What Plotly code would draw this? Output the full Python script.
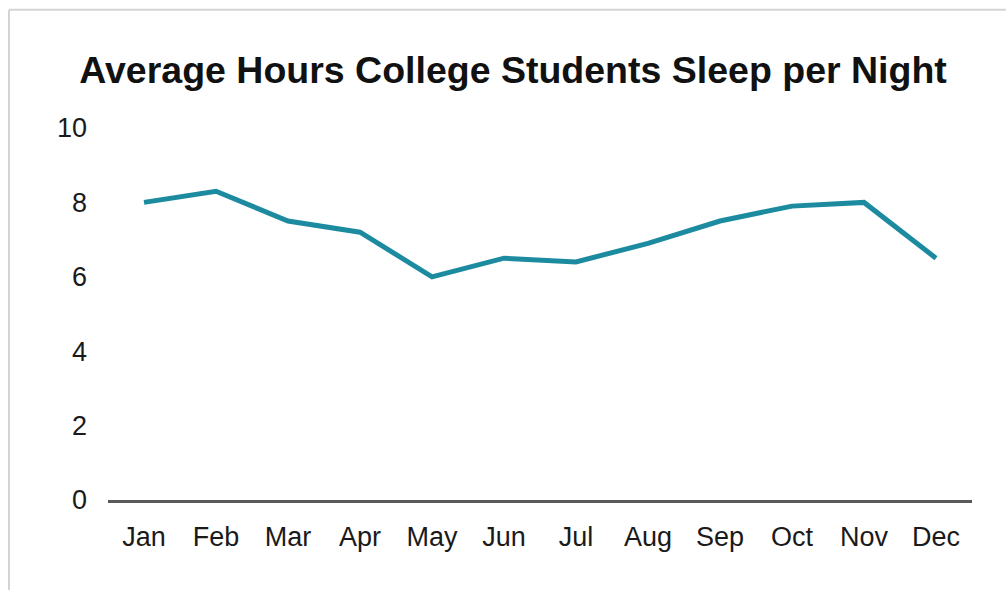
import plotly.graph_objects as go

months = ["Jan", "Feb", "Mar", "Apr", "May", "Jun",
          "Jul", "Aug", "Sep", "Oct", "Nov", "Dec"]
hours = [8.0, 8.3, 7.5, 7.2, 6.0, 6.5, 6.4, 6.9, 7.5, 7.9, 8.0, 6.5]
y_ticks = [0, 2, 4, 6, 8, 10]

FONT = "Liberation Sans, Arial, sans-serif"

fig = go.Figure(
    go.Scatter(
        x=months,
        y=hours,
        mode="lines",
        line=dict(color="#1c8ba0", width=5),
        hoverinfo="x+y",
    )
)

fig.update_layout(
    width=1006,
    height=590,
    margin=dict(l=108, r=34, t=128, b=90),
    paper_bgcolor="white",
    plot_bgcolor="white",
    showlegend=False,
    title=dict(
        text="<b>Average Hours College Students Sleep per Night</b>",
        x=0.51,
        xanchor="center",
        y=0.882,
        yanchor="middle",
        font=dict(family=FONT, size=37.5, color="#111111"),
    ),
    font=dict(family=FONT, size=27, color="#1a1a1a"),
    shapes=[
        # outer frame (top and left edges visible)
        dict(type="line", xref="paper", yref="paper",
             x0=-0.1146, x1=1.2, y0=1.318, y1=1.318,
             line=dict(color="#d4d4d4", width=2)),
        dict(type="line", xref="paper", yref="paper",
             x0=-0.1146, x1=-0.1146, y0=-0.5, y1=1.318,
             line=dict(color="#d4d4d4", width=2)),
    ],
)

fig.update_xaxes(
    type="category",
    range=[-0.5, 11.5],
    showgrid=False,
    showline=True,
    linecolor="#595959",
    linewidth=3,
    ticks="",
    ticklabelstandoff=11,
    tickfont=dict(family=FONT, size=27, color="#1a1a1a"),
)

fig.update_yaxes(
    range=[0, 10],
    tickvals=y_ticks,
    showgrid=False,
    showline=False,
    zeroline=False,
    ticks="",
    ticklabelstandoff=20,
    tickfont=dict(family=FONT, size=27, color="#1a1a1a"),
)

fig.write_html("out.html")
